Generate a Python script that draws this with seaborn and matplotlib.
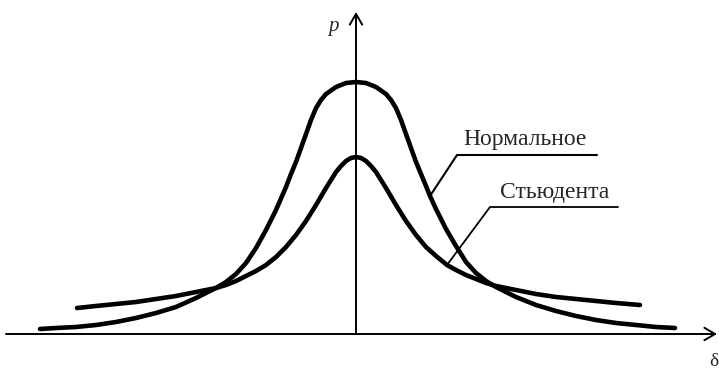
import matplotlib
matplotlib.use("Agg")
import matplotlib.pyplot as plt
import seaborn as sns
import pandas as pd

# Normal distribution curve (delta, p)
delta_norm = [-3.16, -3.00, -2.80, -2.60, -2.40, -2.20, -2.00, -1.80, -1.60, -1.50,
              -1.40, -1.30, -1.20, -1.10, -1.00, -0.90, -0.80, -0.70, -0.65, -0.60,
              -0.55, -0.50, -0.45, -0.40, -0.35, -0.30, -0.20, -0.10, 0.00, 0.10,
              0.20, 0.30, 0.35, 0.40, 0.45, 0.50, 0.55, 0.60, 0.65, 0.70,
              0.74, 0.80, 0.90, 1.00, 1.10, 1.20, 1.30, 1.40, 1.50, 1.60,
              1.80, 2.00, 2.20, 2.40, 2.60, 2.80, 3.00, 3.19]
p_norm = [0.05, 0.06, 0.07, 0.09, 0.12, 0.16, 0.21, 0.27, 0.36, 0.41,
          0.46, 0.52, 0.60, 0.71, 0.86, 1.04, 1.24, 1.47, 1.60, 1.72,
          1.86, 2.00, 2.14, 2.26, 2.34, 2.40, 2.47, 2.51, 2.52, 2.51,
          2.47, 2.40, 2.34, 2.26, 2.14, 2.00, 1.86, 1.72, 1.60, 1.48,
          1.38, 1.25, 1.05, 0.88, 0.72, 0.61, 0.53, 0.47, 0.42, 0.37,
          0.29, 0.23, 0.18, 0.14, 0.11, 0.09, 0.07, 0.06]

# Student's t distribution curve (delta, p)
delta_t = [-2.79, -2.60, -2.40, -2.20, -2.00, -1.80, -1.60, -1.40, -1.30, -1.20,
           -1.10, -1.00, -0.90, -0.80, -0.70, -0.60, -0.50, -0.40, -0.30, -0.25,
           -0.20, -0.15, -0.10, -0.05, 0.00, 0.05, 0.10, 0.15, 0.20, 0.25,
           0.30, 0.40, 0.50, 0.60, 0.70, 0.80, 0.91, 1.00, 1.10, 1.20,
           1.30, 1.40, 1.60, 1.80, 2.00, 2.20, 2.40, 2.60, 2.84]
p_t = [0.26, 0.28, 0.30, 0.32, 0.35, 0.38, 0.42, 0.46, 0.49, 0.53,
       0.58, 0.63, 0.69, 0.77, 0.87, 0.99, 1.13, 1.29, 1.46, 1.54,
       1.62, 1.68, 1.73, 1.76, 1.77, 1.76, 1.73, 1.68, 1.62, 1.54,
       1.46, 1.29, 1.13, 0.99, 0.87, 0.78, 0.69, 0.64, 0.59, 0.55,
       0.51, 0.48, 0.44, 0.40, 0.37, 0.35, 0.33, 0.31, 0.29]

label_norm = "Нормальное"
label_t = "Стьюдента"

sns.set_style("white")
plt.rcParams["font.family"] = ["Liberation Serif", "DejaVu Serif"]

fig = plt.figure(figsize=(7.19, 3.70), dpi=100)
ax = fig.add_axes([0, 0, 1, 1])
ax.set_xlim(-3.56, 3.63)
ax.set_ylim(-0.36, 3.34)
ax.axis("off")

df_norm = pd.DataFrame({"delta": delta_norm, "p": p_norm})
df_t = pd.DataFrame({"delta": delta_t, "p": p_t})

line_kw = dict(color="black", linewidth=3.3, solid_capstyle="round",
               solid_joinstyle="round", legend=False)
sns.lineplot(data=df_norm, x="delta", y="p", ax=ax, sort=False, **line_kw)
sns.lineplot(data=df_t, x="delta", y="p", ax=ax, sort=False, **line_kw)

# Coordinate axes with open arrowheads
arrow = dict(arrowstyle="->,head_length=0.55,head_width=0.32",
             color="black", linewidth=1.4, mutation_scale=14,
             shrinkA=0, shrinkB=0)
ax.annotate("", xy=(3.61, 0.0), xytext=(-3.50, 0.0), arrowprops=arrow)
ax.annotate("", xy=(0.0, 3.22), xytext=(0.0, 0.0), arrowprops=arrow)

ax.text(-0.23, 3.07, "p", fontsize=15, style="italic", ha="center", va="center")
ax.text(3.58, -0.28, "δ", fontsize=14, ha="center", va="center")

# Leader lines from the curves to their labels
i_n = delta_norm.index(0.74)
ax.plot([delta_norm[i_n], 1.01, 2.41], [p_norm[i_n], 1.79, 1.79],
        color="black", linewidth=1.5)
ax.text(1.07, 1.89, label_norm, fontsize=17, ha="left", va="baseline")

i_t = delta_t.index(0.91)
ax.plot([delta_t[i_t], 1.34, 2.62], [p_t[i_t], 1.27, 1.27],
        color="black", linewidth=1.3)
ax.text(1.44, 1.36, label_t, fontsize=17, ha="left", va="baseline")

fig.savefig("out.png", dpi=100)
